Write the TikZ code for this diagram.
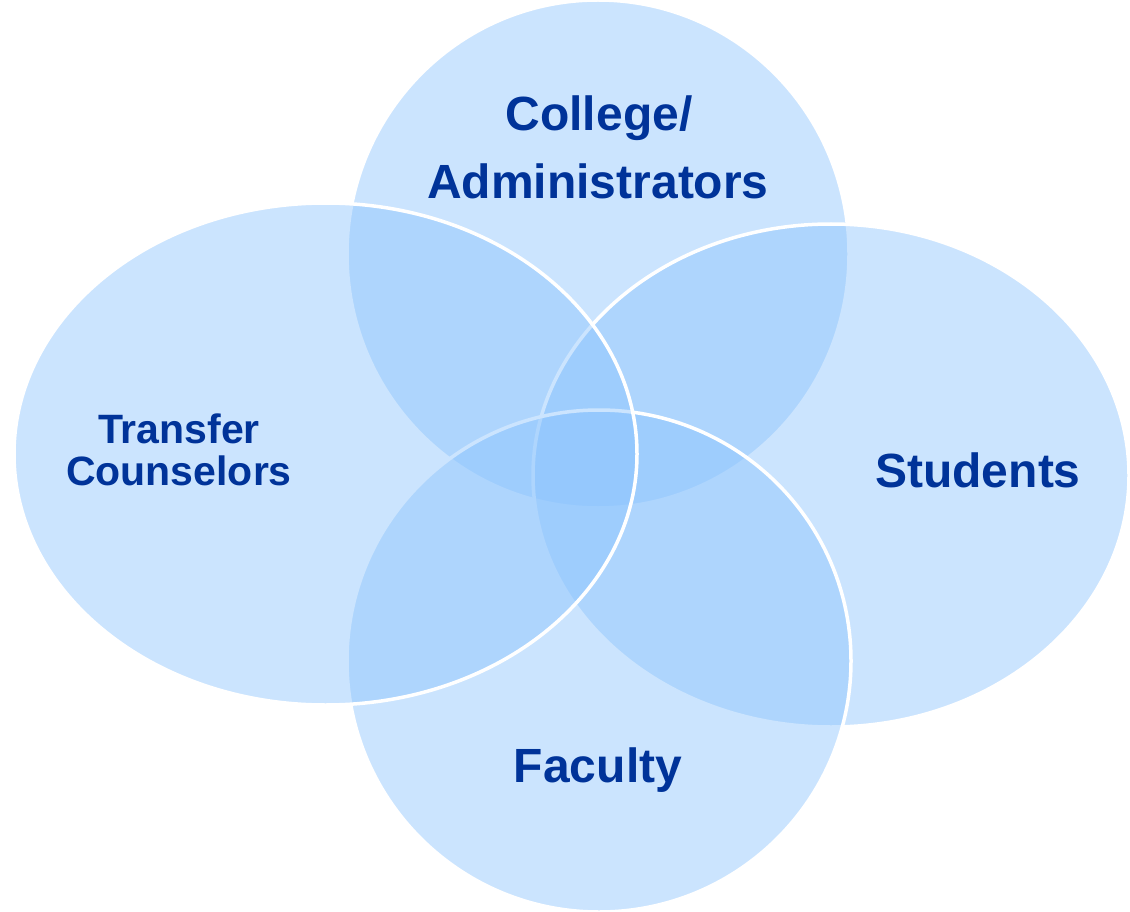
\documentclass[tikz,border=0pt]{standalone}
\usepackage{fontspec}
\setmainfont{Liberation Sans}
\definecolor{vennfill}{RGB}{140,196,253}
\definecolor{venntext}{RGB}{0,51,153}
\tikzset{
  vennset/.style={fill=vennfill, fill opacity=0.45, draw=white, draw opacity=1, line width=3.5pt},
  bigtext/.style={text=venntext, font=\bfseries\fontsize{48}{48}\selectfont, anchor=base, inner sep=0pt},
  smalltext/.style={text=venntext, font=\bfseries\fontsize{41}{41}\selectfont, anchor=base, inner sep=0pt}
}
\begin{document}
\begin{tikzpicture}[x=1pt,y=-1pt]
\useasboundingbox (0,0) rectangle (1130,912);
\clip (0,0) rectangle (1130,912);
\fill[white] (0,0) rectangle (1130,912);
\draw[vennset] (598,254) ellipse [x radius=251, y radius=254];
\draw[vennset] (831,475.5) ellipse [x radius=298, y radius=251.5];
\draw[vennset] (599,661) ellipse [x radius=252, y radius=251];
\draw[vennset] (325.5,454) ellipse [x radius=311.5, y radius=251];
\node[bigtext] (college) at (599,131) {College/};
\node[bigtext] (admin) at (598,199) {Administrators};
\node[smalltext] (transfer) at (179,443) {Transfer};
\node[smalltext] (couns) at (179,485) {Counselors};
\node[bigtext] (students) at (978,487) {Students};
\node[bigtext] (faculty) at (598,782) {Faculty};
\end{tikzpicture}
\end{document}
